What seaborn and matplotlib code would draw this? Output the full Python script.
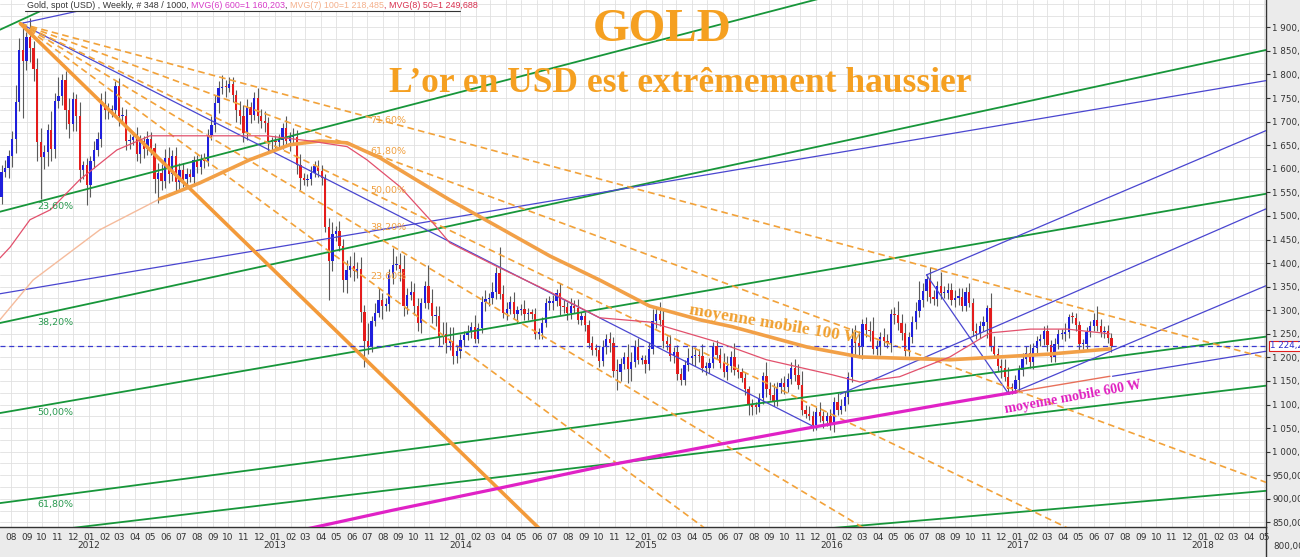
import numpy as np
import pandas as pd
import matplotlib
matplotlib.use('Agg')
import matplotlib.pyplot as plt
import matplotlib.dates as mdates
import matplotlib.transforms as mtransforms
from matplotlib.ticker import MultipleLocator, FixedLocator, FuncFormatter
from matplotlib.patches import Rectangle
from matplotlib.lines import Line2D
import seaborn as sns

# ---- weekly gold candles (Friday closes), Jul 2011 -> Jul 2017 ----
first_open = 1530
close_2011 = [1541, 1594, 1601, 1628, 1663, 1742, 1852, 1828, 1880, 1856, 1812, 1656, 1624,
              1636, 1683, 1642, 1743, 1754, 1788, 1725, 1696, 1747, 1711, 1598, 1607, 1565]
close_2012 = [1616, 1640, 1664, 1738, 1725, 1724, 1724, 1776, 1711, 1712, 1659, 1662, 1668,
              1631, 1659, 1642, 1663, 1644, 1578, 1592, 1574, 1622, 1590, 1627, 1572, 1598,
              1579, 1590, 1583, 1618, 1604, 1621, 1616, 1672, 1692, 1739, 1771, 1773, 1772,
              1780, 1757, 1724, 1711, 1676, 1731, 1715, 1751, 1712, 1702, 1697, 1658, 1657]
close_2013 = [1656, 1661, 1687, 1658, 1667, 1668, 1609, 1581, 1576, 1578, 1592, 1606, 1596,
              1580, 1476, 1404, 1462, 1469, 1436, 1364, 1386, 1393, 1383, 1388, 1296, 1234,
              1223, 1277, 1295, 1322, 1310, 1313, 1376, 1395, 1396, 1387, 1308, 1333, 1338,
              1310, 1272, 1315, 1352, 1315, 1287, 1288, 1244, 1250, 1230, 1235, 1203, 1213]
close_2014 = [1237, 1247, 1254, 1264, 1240, 1263, 1318, 1324, 1326, 1339, 1379, 1334, 1294,
              1303, 1318, 1293, 1300, 1302, 1291, 1293, 1292, 1250, 1252, 1274, 1316, 1316,
              1320, 1337, 1310, 1307, 1294, 1310, 1304, 1280, 1287, 1268, 1231, 1216, 1215,
              1192, 1222, 1238, 1231, 1171, 1169, 1186, 1200, 1175, 1191, 1222, 1195, 1195]
close_2015 = [1186, 1217, 1277, 1292, 1279, 1234, 1228, 1203, 1212, 1165, 1152, 1184, 1199,
              1202, 1206, 1203, 1178, 1178, 1188, 1225, 1205, 1189, 1168, 1181, 1201, 1173,
              1168, 1157, 1132, 1099, 1095, 1094, 1113, 1160, 1133, 1121, 1107, 1137, 1145,
              1137, 1155, 1177, 1162, 1142, 1088, 1081, 1076, 1056, 1085, 1075, 1065, 1076]
close_2016 = [1061, 1105, 1089, 1097, 1117, 1158, 1239, 1230, 1222, 1270, 1258, 1255, 1217,
              1221, 1243, 1235, 1231, 1293, 1290, 1273, 1252, 1214, 1243, 1276, 1298, 1322,
              1340, 1366, 1328, 1323, 1351, 1336, 1336, 1342, 1321, 1327, 1328, 1310, 1338,
              1316, 1257, 1252, 1267, 1276, 1304, 1225, 1208, 1182, 1177, 1159, 1134, 1133, 1152]
close_2017 = [1173, 1197, 1209, 1190, 1220, 1234, 1238, 1257, 1226, 1201, 1229, 1249, 1249,
              1254, 1285, 1284, 1268, 1228, 1228, 1254, 1267, 1279, 1267, 1254, 1256, 1241, 1224]

# upper / lower wick sizes (USD)
hw_2011 = [20, 14, 18, 12, 18, 36, 25, 60, 10, 40, 15, 22, 30, 14, 12, 40, 18, 40, 14, 20, 25, 15, 12, 30, 10, 15]
lw_2011 = [10, 15, 12, 20, 25, 30, 20, 120, 18, 30, 25, 40, 89, 25, 30, 25, 20, 15, 18, 40, 30, 15, 30, 25, 20, 42]
hw_2012 = [12, 20, 15, 22, 28, 15, 12, 10, 16, 20, 15, 12, 10, 20, 12, 10, 18, 14, 10, 20, 18, 20, 25, 12, 20, 15,
           15, 12, 10, 10, 12, 10, 12, 12, 20, 18, 15, 25, 15, 15, 15, 10, 20, 25, 18, 10, 12, 20, 15, 20, 12, 10]
lw_2012 = [25, 15, 12, 18, 20, 18, 15, 12, 21, 15, 20, 18, 12, 15, 18, 20, 12, 15, 30, 51, 20, 15, 20, 15, 20, 15,
           18, 15, 12, 20, 12, 15, 14, 10, 10, 15, 20, 12, 20, 10, 15, 25, 15, 20, 15, 18, 12, 15, 15, 20, 25, 20]
hw_2013 = [15, 12, 10, 25, 12, 18, 15, 22, 10, 12, 14, 10, 12, 12, 10, 20, 25, 10, 20, 15, 20, 22, 30, 15, 25, 15,
           40, 10, 20, 25, 15, 12, 12, 38, 20, 25, 30, 15, 25, 20, 15, 12, 10, 45, 30, 20, 20, 25, 25, 30, 30, 12]
lw_2013 = [15, 12, 18, 10, 20, 12, 20, 27, 10, 12, 12, 10, 14, 15, 10, 83, 20, 15, 10, 25, 28, 15, 20, 15, 20, 54,
           15, 12, 10, 10, 28, 12, 15, 20, 10, 25, 20, 15, 12, 20, 15, 20, 10, 12, 15, 20, 20, 15, 20, 15, 18, 15]
hw_2014 = [12, 10, 15, 12, 25, 10, 12, 18, 10, 20, 12, 55, 20, 15, 12, 20, 10, 12, 20, 12, 10, 12, 10, 12, 10, 14,
           12, 8, 20, 12, 10, 15, 12, 20, 10, 10, 12, 14, 12, 10, 15, 12, 15, 12, 25, 12, 12, 28, 20, 15, 20, 10]
lw_2014 = [15, 12, 10, 12, 10, 10, 12, 20, 15, 12, 15, 10, 10, 15, 12, 12, 20, 10, 12, 12, 10, 12, 10, 12, 10, 15,
           15, 10, 20, 12, 15, 12, 10, 10, 12, 12, 12, 10, 12, 12, 10, 15, 20, 12, 38, 20, 10, 30, 25, 12, 10, 10]
hw_2015 = [10, 15, 25, 15, 25, 25, 12, 20, 10, 15, 12, 10, 20, 22, 15, 12, 25, 12, 10, 8, 12, 15, 20, 22, 12, 30,
           12, 10, 12, 8, 12, 10, 12, 10, 30, 15, 25, 10, 12, 15, 12, 14, 20, 25, 30, 10, 15, 10, 10, 20, 12, 8]
lw_2015 = [20, 12, 10, 15, 12, 15, 12, 10, 15, 12, 10, 10, 12, 15, 20, 12, 10, 15, 12, 10, 8, 12, 10, 15, 12, 10,
           12, 10, 12, 22, 18, 15, 10, 12, 18, 12, 10, 10, 12, 15, 10, 12, 12, 10, 10, 10, 8, 12, 10, 12, 15, 10]
hw_2016 = [15, 12, 20, 15, 12, 10, 24, 30, 25, 12, 15, 20, 30, 15, 10, 20, 15, 10, 13, 30, 20, 20, 10, 12, 20, 40,
           18, 9, 25, 15, 12, 30, 15, 15, 15, 15, 20, 20, 12, 20, 10, 15, 10, 12, 8, 33, 20, 12, 15, 20, 20, 12, 10]
lw_2016 = [15, 20, 12, 10, 10, 15, 10, 30, 20, 25, 15, 20, 10, 12, 15, 10, 12, 20, 20, 15, 15, 12, 10, 12, 15, 12,
           15, 20, 12, 12, 15, 12, 10, 12, 10, 15, 15, 12, 12, 10, 12, 12, 10, 12, 35, 12, 10, 10, 20, 10, 12, 10, 8]
hw_2017 = [10, 12, 15, 20, 10, 12, 12, 10, 12, 10, 12, 12, 12, 20, 8, 12, 10, 10, 12, 10, 10, 15, 30, 15, 10, 12, 10]
lw_2017 = [25, 12, 10, 12, 15, 12, 10, 12, 12, 10, 10, 12, 10, 15, 12, 10, 12, 12, 10, 12, 10, 12, 12, 10, 12, 10, 12]

# ---- moving averages ----
ma50_dates = ['2011-07-10', '2011-07-30', '2011-09-07', '2011-10-17', '2011-12-14', '2012-02-25', '2012-04-30',
              '2012-08-06', '2012-12-16', '2013-03-11', '2013-05-23', '2013-07-01', '2013-09-04', '2013-11-08',
              '2013-12-11', '2014-03-19', '2014-06-26', '2014-10-02', '2015-01-08', '2015-05-20', '2015-08-26',
              '2016-01-03', '2016-02-26', '2016-05-14', '2016-08-21', '2016-11-08', '2017-01-26', '2017-04-09',
              '2017-07-02']
ma50_vals = [1411, 1434, 1492, 1513, 1577, 1640, 1670, 1670, 1670, 1659, 1647, 1619, 1562, 1485, 1443, 1390,
             1339, 1284, 1275, 1233, 1195, 1163, 1148, 1159, 1201, 1252, 1260, 1260, 1250]
ma100_dates = ['2011-07-10', '2011-09-13', '2012-01-23', '2012-05-19', '2012-08-06', '2012-11-12', '2013-01-30',
               '2013-03-30', '2013-05-23', '2013-07-27', '2013-10-13', '2013-12-11', '2014-03-19', '2014-06-26',
               '2014-10-02', '2015-01-08', '2015-04-16', '2015-06-20', '2015-11-14', '2016-02-26', '2016-08-21',
               '2017-03-05', '2017-07-02']
ma100_vals = [1280, 1364, 1471, 1536, 1570, 1619, 1651, 1659, 1655, 1623, 1572, 1534, 1475, 1415, 1364, 1309,
              1280, 1265, 1222, 1201, 1195, 1207, 1218]
ma600_dates = ['2012-11-13', '2013-03-21', '2013-08-21', '2014-03-20', '2014-10-03', '2015-04-17', '2015-10-25',
               '2016-08-21', '2016-12-31']
ma600_vals = [811, 840, 876, 923, 968, 1008, 1046, 1103, 1127]
ma600_tail_dates = ['2016-12-31', '2017-07-02']
ma600_tail_vals = [1127, 1160]

# ---- drawn trend lines: (date, price) -> (date, price) ----
fan_origin = ('2011-08-19', 1908)
fan_ends = [('2018-05-05', 1199), ('2018-05-05', 935), ('2017-08-19', 770), ('2016-06-18', 770), ('2015-07-21', 770)]
fan_solid_end = ('2014-08-08', 770)
fan_labels = ['71,60%', '61,80%', '50,00%', '38,20%', '23,60%']
fan_label_prices = [1702, 1636, 1555, 1475, 1371]
green_lines = [(('2011-07-10', 1509), ('2018-05-05', 2207)),
               (('2011-07-10', 1273), ('2018-05-05', 1852)),
               (('2011-07-10', 1082), ('2018-05-05', 1547)),
               (('2011-07-10', 891), ('2018-05-05', 1244)),
               (('2011-07-10', 820), ('2018-05-05', 1140)),
               (('2015-04-17', 814), ('2018-05-05', 917)),
               (('2011-07-10', 1895), ('2012-03-22', 2022))]
green_labels = ['23,60%', '38,20%', '50,00%', '61,80%']
green_label_prices = [1519, 1275, 1084, 889]
blue_lines = [(('2011-08-19', 1908), ('2015-12-03', 1050)),
              (('2011-07-10', 1335), ('2018-05-05', 1787)),
              (('2011-08-19', 1908), ('2012-06-01', 1975)),
              (('2016-07-06', 1375), ('2018-05-05', 1681)),
              (('2016-07-06', 1375), ('2016-12-15', 1122)),
              (('2016-01-18', 1122), ('2018-05-05', 1515)),
              (('2016-12-15', 1122), ('2018-05-05', 1352)),
              (('2017-07-07', 1160), ('2018-05-05', 1213))]
last_price = 1224.2
price_ticks = list(range(850, 1901, 50))
years = [2012, 2013, 2014, 2015, 2016, 2017, 2018]


def d(s):
    return mdates.date2num(pd.Timestamp(s))


def seg(ax, p0, p1, **kw):
    ax.plot([d(p0[0]), d(p1[0])], [p0[1], p1[1]], **kw)


def fr(v, _=None):
    return f'{v:,.2f}'.replace(',', ' ').replace('.', ',')


closes = np.array(close_2011 + close_2012 + close_2013 + close_2014 + close_2015 + close_2016 + close_2017, float)
hw = np.array(hw_2011 + hw_2012 + hw_2013 + hw_2014 + hw_2015 + hw_2016 + hw_2017, float)
lw = np.array(lw_2011 + lw_2012 + lw_2013 + lw_2014 + lw_2015 + lw_2016 + lw_2017, float)
opens = np.r_[first_open, closes[:-1]]
highs = np.maximum(opens, closes) + hw
lows = np.minimum(opens, closes) - lw
weeks = pd.date_range('2011-07-08', periods=len(closes), freq='W-FRI') - pd.Timedelta(days=2)
xs = mdates.date2num(weeks)

sns.set_style('white')
plt.rcParams['font.family'] = ['DejaVu Sans']

fig = plt.figure(figsize=(13, 5.57), dpi=100, facecolor='#ebebeb')
ax = fig.add_axes([0, 30 / 557, 1266 / 1300, 527 / 557])
ax.set_facecolor('white')

# candles
up = closes >= opens
ax.vlines(xs, lows, highs, color='#5a5a5a', lw=0.8, zorder=2)
body = np.where(np.abs(closes - opens) < 3, 3, closes - opens)
ax.bar(xs, body, bottom=opens, width=4.5, color=np.where(up, '#1f1fdc', '#e41c1c'),
       edgecolor='none', linewidth=0, zorder=2.5)

# trend lines
for p0, p1 in green_lines:
    seg(ax, p0, p1, color='#17963a', lw=1.3, zorder=3)
for p0, p1 in blue_lines:
    seg(ax, p0, p1, color='#4a46d0', lw=0.9, zorder=3)
for end in fan_ends:
    seg(ax, fan_origin, end, color='#f2a23a', lw=1.2, ls=(0, (4, 2.5)), zorder=3)
seg(ax, fan_origin, fan_solid_end, color='#f39a3a', lw=2.6, zorder=3)
ax.axhline(last_price, color='#3a3ad0', lw=0.9, ls=(0, (4, 3)), zorder=3)

# moving averages
ma50 = pd.DataFrame({'date': [d(s) for s in ma50_dates], 'price': ma50_vals})
ma100 = pd.DataFrame({'date': [d(s) for s in ma100_dates], 'price': ma100_vals})
ma600 = pd.DataFrame({'date': [d(s) for s in ma600_dates], 'price': ma600_vals})
ma600t = pd.DataFrame({'date': [d(s) for s in ma600_tail_dates], 'price': ma600_tail_vals})
sns.lineplot(data=ma100, x='date', y='price', ax=ax, color='#f5bb9c', lw=1.0, sort=False, zorder=4)
sns.lineplot(data=ma100.iloc[3:], x='date', y='price', ax=ax, color='#f2a047', lw=2.6, sort=False, zorder=4)
sns.lineplot(data=ma50, x='date', y='price', ax=ax, color='#e2506c', lw=0.9, sort=False, zorder=4)
sns.lineplot(data=ma600, x='date', y='price', ax=ax, color='#e022c6', lw=2.3, sort=False, zorder=4)
sns.lineplot(data=ma600t, x='date', y='price', ax=ax, color='#e8705a', lw=1.0, sort=False, zorder=4)

# labels on the fans
for s, p in zip(fan_labels, fan_label_prices):
    ax.text(d('2013-07-07'), p, s, color='#f0a040', fontsize=6.8, va='center', zorder=6)
for s, p in zip(green_labels, green_label_prices):
    ax.text(d('2011-09-21'), p, s, color='#2a9a50', fontsize=6.8, va='center', zorder=6)

ax.text(d('2015-09-11'), 1269, 'moyenne mobile 100 W', color='#f0a030', fontsize=12.5, fontweight='bold',
        family='Liberation Serif', rotation=-9.6, ha='center', va='center', zorder=7)
ax.text(d('2017-04-21'), 1116, 'moyenne mobile 600 W', color='#e020c0', fontsize=10, fontweight='bold',
        family='Liberation Serif', rotation=10.3, ha='center', va='center', zorder=7)

ax.text(0.523, 0.943, 'GOLD', transform=ax.transAxes, ha='center', va='center', fontsize=34,
        fontweight='bold', family='Liberation Serif', color='#f5a021', zorder=10)
ax.text(0.537, 0.842, 'L’or en USD est extrêmement haussier', transform=ax.transAxes, ha='center',
        va='center', fontsize=25.5, fontweight='bold', family='Liberation Serif', color='#f5a021', zorder=10)

# header
ax.add_patch(Rectangle((25 / 1266, 1 - 11 / 527), 435 / 1266, 11 / 527, transform=ax.transAxes,
                       facecolor='white', edgecolor='none', zorder=8))
ax.add_line(Line2D([25 / 1266, 460 / 1266], [1 - 11 / 527, 1 - 11 / 527], transform=ax.transAxes,
                   color='#333333', lw=0.8, zorder=9))
parts = [('Gold, spot (USD) , Weekly, # 348 / 1000, ', '#333333'), ('MVG(6) 600=1 160,203', '#d63cc8'),
         (', ', '#333333'), ('MVG(7) 100=1 218,485', '#f4b08c'), (', MVG(8) 50=1 249,688', '#d8304f')]
prev = ax.annotate(parts[0][0], xy=(27 / 1266, 1 - 10 / 527), xycoords='axes fraction', va='bottom',
                   fontsize=6.4, family='Liberation Sans', color=parts[0][1], zorder=10)
for txt, col in parts[1:]:
    prev = ax.annotate(txt, xy=(1, 0), xycoords=prev, va='bottom', fontsize=6.4, family='Liberation Sans',
                       color=col, zorder=10)

# axes
ax.set_xlim(d('2011-07-10'), d('2018-05-05'))
ax.set_ylim(840.3, 1958)
ax.set_xlabel('')
ax.set_ylabel('')
ax.xaxis.set_major_locator(mdates.MonthLocator())
ax.xaxis.set_major_formatter(mdates.DateFormatter('%m'))
ax.yaxis.tick_right()
ax.yaxis.set_major_locator(FixedLocator(price_ticks))
ax.yaxis.set_minor_locator(MultipleLocator(25))
ax.yaxis.set_major_formatter(FuncFormatter(fr))
ax.tick_params(axis='x', length=3, labelsize=6.5, colors='#333333', pad=1.5)
ax.tick_params(axis='y', which='major', length=3, labelsize=6.3, colors='#333333', pad=1.5)
ax.tick_params(axis='y', which='minor', length=0)
ax.grid(True, which='major', axis='x', color='#e0e0e0', lw=0.6, zorder=0)
ax.grid(True, which='both', axis='y', color='#e0e0e0', lw=0.6, zorder=0)
ax.set_axisbelow(True)
for side in ['left', 'top']:
    ax.spines[side].set_visible(False)
for side in ['right', 'bottom']:
    ax.spines[side].set_color('#333333')
    ax.spines[side].set_linewidth(1)

trans = mtransforms.blended_transform_factory(ax.transAxes, ax.transData)
ax.text(1 + 7 / 1266, 800, fr(800), transform=trans, va='center', ha='left', fontsize=6.3,
        color='#333333', clip_on=False)
ax.text(1 + 4 / 1266, last_price, '1 224,2', transform=trans, va='center', ha='left', fontsize=6.3,
        color='#2a2ad0', clip_on=False, zorder=10,
        bbox=dict(facecolor='white', edgecolor='#e02020', lw=0.8, pad=0.6))
xtrans = mtransforms.blended_transform_factory(ax.transData, ax.transAxes)
for y in years:
    ax.text(d(f'{y}-01-01'), -0.036, str(y), transform=xtrans, ha='center', va='center', fontsize=6.5,
            color='#333333', clip_on=False)
fig.add_artist(Line2D([1266 / 1300, 1266 / 1300], [0, 30 / 557], transform=fig.transFigure,
                      color='#333333', lw=1))

fig.savefig('out.png', dpi=100, facecolor=fig.get_facecolor())
